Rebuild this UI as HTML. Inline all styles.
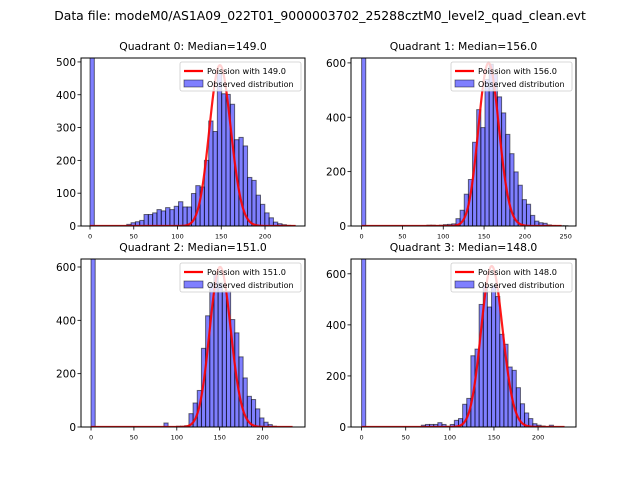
<!DOCTYPE html>
<html><head><meta charset="utf-8"><style>
body{margin:0;background:#fff}
svg{display:block;font-family:"DejaVu Sans","Liberation Sans",sans-serif}
</style></head><body>
<svg id="fig" width="640" height="480" viewBox="0 0 640 480" xmlns="http://www.w3.org/2000/svg">
<text x="320" y="20" text-anchor="middle" font-size="12.4">Data file: modeM0/AS1A09_022T01_9000003702_25288cztM0_level2_quad_clean.evt</text>
</svg>
<script>
// Quadrant data
const medians = [149.0, 156.0, 151.0, 148.0];
const zeroBinCounts = [2000, 2000, 2000, 2000];
const binStarts = [42, 80, 85, 67.7];
const binWidths = [4.93, 5.08, 4.86, 4.68];
const counts0 = [5,10,13,17,35,35,40,50,46,56,50,60,74,58,58,99,123,119,200,320,288,465,403,401,371,263,270,244,148,139,94,66,40,25,12,7,4,2,1];
const counts1 = [3,3,2,3,5,6,8,27,58,117,171,308,428,362,539,595,558,475,416,337,266,199,150,97,80,39,18,12,10,4,2,1,1,1];
const counts2 = [15,0,0,3,3,5,50,90,137,295,417,540,575,540,509,509,403,353,263,184,115,103,68,34,18,9,3];
const counts3 = [7,10,10,10,17,10,3,10,26,33,89,112,279,305,480,554,470,554,511,363,324,235,222,154,91,55,33,13,7,4,0,7];
const poissonPeaks = [490, 600, 600, 630];
const curveMax = [235, 245, 235, 230];
const yTicks0 = [0,100,200,300,400,500];
const yTicks1 = [0,200,400,600];
const yTicks2 = [0,200,400,600];
const yTicks3 = [0,200,400,600];
const xTicks0 = [0,50,100,150,200];
const xTicks1 = [0,50,100,150,200,250];
const xTicks2 = [0,50,100,150,200];
const xTicks3 = [0,50,100,150,200];

const NS='http://www.w3.org/2000/svg';
const fig=document.getElementById('fig');
function mk(tag,attrs,parent){const e=document.createElementNS(NS,tag);for(const k in attrs)e.setAttribute(k,attrs[k]);(parent||fig).appendChild(e);return e;}

const layouts=[
 {l:81,r:305,t:58,b:226,xmin:-10.3,xmax:245.7,ymax:512},
 {l:351,r:576,t:58,b:226,xmin:-13,xmax:262.6,ymax:618},
 {l:81,r:305,t:259,b:427,xmin:-11.7,xmax:249.5,ymax:630},
 {l:351,r:576,t:259,b:427,xmin:-12,xmax:243,ymax:658}
];
const allCounts=[counts0,counts1,counts2,counts3];
const allY=[yTicks0,yTicks1,yTicks2,yTicks3];
const allX=[xTicks0,xTicks1,xTicks2,xTicks3];

function lgamma(n){let s=0;for(let i=2;i<=n;i++)s+=Math.log(i);return s;}

layouts.forEach((L,q)=>{
  const X=v=>L.l+(v-L.xmin)/(L.xmax-L.xmin)*(L.r-L.l);
  const Y=v=>L.b-v/L.ymax*(L.b-L.t);
  const g=mk('g',{});
  
  
  const cid='clip'+q;
  const cp=mk('clipPath',{id:cid},g);mk('rect',{x:L.l,y:L.t,width:L.r-L.l,height:L.b-L.t},cp);
  const bars=mk('g',{'clip-path':'url(#'+cid+')'},g);
  const zb=mk('rect',{x:X(0),y:Y(zeroBinCounts[q]),width:X(binWidths[q])-X(0),height:Y(0)-Y(zeroBinCounts[q]),fill:'rgba(0,0,255,0.5)',stroke:'rgba(0,0,0,0.55)','stroke-width':1},bars);
  
  
  allCounts[q].forEach((c,i)=>{
    if(c<=0)return;
    const x0=binStarts[q]+i*binWidths[q];
    const r=mk('rect',{x:X(x0),y:Y(c),width:X(x0+binWidths[q])-X(x0),height:Y(0)-Y(c),fill:'rgba(0,0,255,0.5)',stroke:'rgba(0,0,0,0.55)','stroke-width':1},bars);
    
    
  });
  const mu=medians[q];
  const lpk=Math.floor(mu)*Math.log(mu)-mu-lgamma(Math.floor(mu));
  let d='';
  for(let k=0;k<=curveMax[q];k++){
    const lp=k*Math.log(mu)-mu-lgamma(k);
    const v=poissonPeaks[q]*Math.exp(lp-lpk);
    d+=(k?'L':'M')+X(k).toFixed(2)+','+Y(v).toFixed(2);
  }
  const pl=mk('path',{d:d,fill:'none',stroke:'rgba(255,0,0,0.9)','stroke-width':2.2,'stroke-linejoin':'round'},bars);
  
  
  mk('rect',{x:L.l,y:L.t,width:L.r-L.l,height:L.b-L.t,fill:'none',stroke:'#000','stroke-width':1},g);
  allY[q].forEach(t=>{
    mk('line',{x1:L.l-3.5,x2:L.l,y1:Y(t),y2:Y(t),stroke:'#000','stroke-width':0.8},g);
    const tx=mk('text',{x:L.l-5,y:Y(t)+4,'text-anchor':'end','font-size':10.5},g);tx.textContent=t;
    
    
  });
  allX[q].forEach(t=>{
    mk('line',{x1:X(t),x2:X(t),y1:L.b,y2:L.b+3.5,stroke:'#000','stroke-width':0.8},g);
    const tx=mk('text',{x:X(t),y:L.b+12.5,'text-anchor':'middle','font-size':6.5},g);tx.textContent=t;
    
    
  });
  const ti=mk('text',{x:(L.l+L.r)/2,y:L.t-8,'text-anchor':'middle','font-size':10.8},g);
  ti.textContent='Quadrant '+q+': Median='+medians[q].toFixed(1);
  
  
  const lg=mk('g',{},g);
  
  
  const lx=L.r-125, ly=L.t+4;
  mk('rect',{x:lx,y:ly,width:121,height:29,rx:2,fill:'rgba(255,255,255,0.8)',stroke:'#ccc','stroke-width':0.8},lg);
  mk('line',{x1:lx+4,x2:lx+23,y1:ly+9,y2:ly+9,stroke:'red','stroke-width':2.2},lg);
  const t1=mk('text',{x:lx+27,y:ly+12,'font-size':8.2},lg);t1.textContent='Poission with '+medians[q].toFixed(1);
  
  
  mk('rect',{x:lx+4,y:ly+18,width:19,height:7,fill:'rgba(0,0,255,0.5)',stroke:'rgba(0,0,0,0.55)','stroke-width':0.8},lg);
  const t2=mk('text',{x:lx+27,y:ly+25,'font-size':8},lg);t2.textContent='Observed distribution';
  
  
});
</script>
</body></html>
